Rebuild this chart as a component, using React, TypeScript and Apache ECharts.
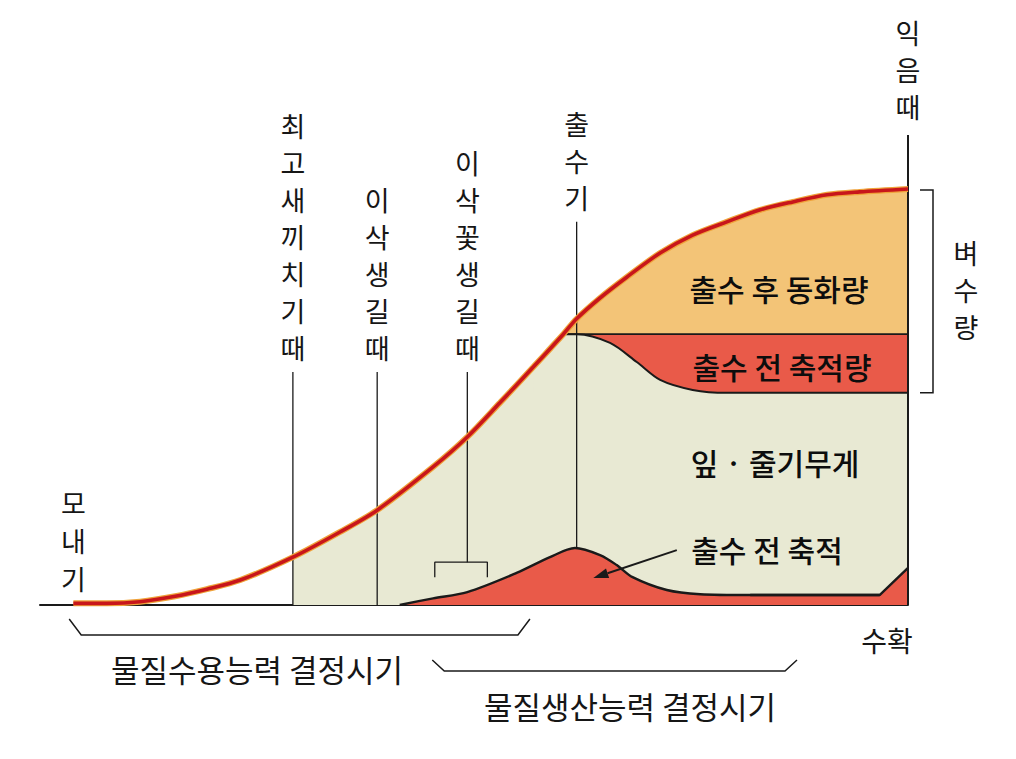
import React, { useEffect, useRef } from "react";
import * as echarts from "echarts";

const FONT = '"Noto Sans CJK KR", "Noto Sans", sans-serif';

// x: relative growth period (0 = transplanting, 100 = ripening/harvest)
// y: relative dry weight (100 = final total)
const totalWeight: number[][] = [
  [0, 0.4], [4, 0.4], [8, 0.8], [12.2, 2.1], [16, 3.8], [20, 6.0], [26.3, 11.5],
  [31.9, 17.5], [36.4, 22.8], [43.1, 33.2], [47.2, 40.4], [51.1, 48.6], [55.1, 57.2],
  [58.7, 65.1], [60.3, 68.8], [63.1, 73.8], [66.3, 78.8], [70.3, 84.6], [74.2, 88.9],
  [78.3, 92.1], [82.3, 95.0], [86.2, 96.9], [90.3, 98.6], [94.2, 99.3], [100, 100],
];
// leaf + stem weight after heading (lower edge of pre-heading reserve band)
const leafStemAfterHeading: number[][] = [
  [58.7, 65.1], [60.3, 65.1], [64.3, 63.0], [67.5, 58.4], [70.3, 54.1],
  [74.2, 51.7], [78.3, 51.0], [100, 51.0],
];
const reserveBandTop: number[][] = [[58.7, 65.1], [100, 65.1]];
// pre-heading accumulation (red hump)
const preHeadingStore: number[][] = [
  [39.1, 0], [43.1, 1.6], [47.2, 3.1], [53.1, 7.7], [57.1, 11.5], [60.1, 13.7],
  [63.1, 12.0], [65.1, 9.6], [67.0, 6.7], [71.1, 3.6], [75.1, 2.6], [81.1, 2.4], [96.6, 2.4],
];
const preHeadingStoreEnd: number[][] = [[81.1, 2.4], [96.6, 2.4], [100, 8.9]];

const stageNames = ["최고새끼치기때", "이삭생길때", "이삭꽃생길때", "출수기", "익음때"];
const stageX = [26.3, 36.4, 47.2, 60.3, 100];
const stageLineTop = [56.0, 56.0, 56.0, 92.1, 113];
const stageLineBottom = [0, 0, 10.3, 13.7, 0];
const panicleBracket: number[][] = [[43.3, 6.7], [43.3, 10.3], [49.6, 10.3], [49.6, 6.7]];
const arrowFrom = [72.3, 13.2];
const arrowTo = [62.3, 6.5];

const periodNames = ["물질수용능력 결정시기", "물질생산능력 결정시기"];
const periodStart = [-0.5, 43.0];
const periodEnd = [54.7, 86.7];

const GREEN = "#e8e9d3";
const ORANGE = "#f3c477";
const RED = "#e95a49";
const INK = "#1a1a1a";
const SMOOTH = 0.3;

export default function App() {
  const ref = useRef<HTMLDivElement>(null);
  useEffect(() => {
    document.body.style.margin = "0";
    const chart = echarts.init(ref.current!, undefined, { renderer: "svg" });
    const area = (data: number[][], color: string, z: number, smooth: any = SMOOTH) => ({
      type: "line",
      data,
      smooth,
      symbol: "none",
      silent: true,
      z,
      lineStyle: { width: 0, opacity: 0 },
      areaStyle: { color, opacity: 1 },
    });
    const outline = (data: number[][], z: number, width: number, smooth: any = SMOOTH, color = INK) => ({
      type: "line",
      data,
      smooth,
      symbol: "none",
      silent: true,
      z,
      lineStyle: { color, width },
    });
    const greenStart = stageX[0];
    const bandStartX = reserveBandTop[0][0];
    const series: any[] = [
      area(totalWeight.filter((p) => p[0] >= greenStart), GREEN, 1),
      area(totalWeight.filter((p) => p[0] >= bandStartX), ORANGE, 2),
      area(reserveBandTop, RED, 3, false),
      area(totalWeight.filter((p) => p[0] >= 55 && p[0] < bandStartX).concat(leafStemAfterHeading), GREEN, 4),
      area(preHeadingStore, RED, 5),
      area(preHeadingStoreEnd, RED, 5, false),
      outline(totalWeight.filter((p) => p[0] >= bandStartX), 6, 1.2),
      outline(reserveBandTop, 6, 1.8, false),
      outline(leafStemAfterHeading, 6, 2),
      outline(preHeadingStore, 6, 2.4),
      outline(preHeadingStoreEnd, 6, 2.4, false),
    ];
    stageX.forEach((x, i) => {
      series.push(outline([[x, stageLineBottom[i]], [x, stageLineTop[i]]], 7, i === 4 ? 2 : 1.3, false));
    });
    series.push(outline(panicleBracket, 7, 1.3, false));
    series.push(outline(totalWeight, 8, 6, SMOOTH, "#efa23a"));
    series.push(outline(totalWeight, 9, 3.6, SMOOTH, "#c8161b"));

    chart.setOption({
      animation: false,
      backgroundColor: "#ffffff",
      grid: { left: 40, right: 108, top: 105.8, bottom: 154 },
      xAxis: {
        type: "value",
        min: -4,
        max: 100,
        axisLine: { show: true, lineStyle: { color: INK, width: 2 } },
        axisTick: { show: false },
        axisLabel: { show: false },
        splitLine: { show: false },
      },
      yAxis: { type: "value", min: 0, max: 120, show: false, splitLine: { show: false } },
      series,
    });

    const px = (x: number, y: number) => chart.convertToPixel({ gridIndex: 0 }, [x, y]) as number[];
    const txt = (text: string, x: number, y: number, extra: any = {}) => ({
      type: "text",
      x,
      y,
      z: 20,
      style: {
        text,
        fontFamily: FONT,
        fontSize: 29,
        fill: "#161616",
        align: "center",
        verticalAlign: "middle",
        ...extra,
      },
    });
    const vert = { fontSize: 27, lineHeight: 37 };
    const graphic: any[] = [];
    stageNames.forEach((name, i) => {
      const [lx, ly] = px(stageX[i], stageLineTop[i]);
      graphic.push(txt(name.split("").join("\n"), lx, ly - (i === 4 ? 10 : 6), { ...vert, verticalAlign: "bottom" }));
    });
    const [bx, by] = px(0, 0);
    graphic.push(txt("모\n내\n기", bx, by - 8, { ...vert, lineHeight: 38, verticalAlign: "bottom" }));
    const [hx, hy] = px(100, 0);
    graphic.push(txt("수확", hx - 21, hy + 35, { fontSize: 28 }));
    // arrow
    const [ax1, ay1] = px(arrowFrom[0], arrowFrom[1]);
    const [ax2, ay2] = px(arrowTo[0], arrowTo[1]);
    const ang = Math.atan2(ay2 - ay1, ax2 - ax1);
    const hl = 15, hw = 5;
    const bxh = ax2 - hl * Math.cos(ang), byh = ay2 - hl * Math.sin(ang);
    graphic.push({
      type: "line",
      z: 20,
      shape: { x1: ax1, y1: ay1, x2: bxh, y2: byh },
      style: { stroke: INK, lineWidth: 2 },
    });
    graphic.push({
      type: "polygon",
      z: 20,
      shape: {
        points: [
          [ax2, ay2],
          [bxh + hw * Math.sin(ang), byh - hw * Math.cos(ang)],
          [bxh - hw * Math.sin(ang), byh + hw * Math.cos(ang)],
        ],
      },
      style: { fill: INK },
    });
    // yield bracket
    const [, yTop] = px(100, totalWeight[totalWeight.length - 1][1]);
    const [, yBot] = px(100, leafStemAfterHeading[leafStemAfterHeading.length - 1][1]);
    graphic.push({
      type: "polyline",
      z: 20,
      shape: { points: [[hx + 12, yTop + 1], [hx + 25, yTop + 1], [hx + 25, yBot], [hx + 12, yBot]] },
      style: { stroke: INK, lineWidth: 1.5, fill: "none" },
    });
    graphic.push(txt("벼\n수\n량", hx + 58, (yTop + yBot) / 2 - 1, vert));
    // period brackets
    const pY = [[by + 14, by + 30], [by + 55, by + 66]];
    const pLab = [by + 63, by + 100];
    periodNames.forEach((name, i) => {
      const [x1] = px(periodStart[i], 0);
      const [x2] = px(periodEnd[i], 0);
      graphic.push({
        type: "polyline",
        z: 20,
        shape: {
          points: [[x1, pY[i][0]], [x1 + 12, pY[i][1]], [x2 - 12, pY[i][1]], [x2, pY[i][0]]],
        },
        style: { stroke: INK, lineWidth: 1.5, fill: "none" },
      });
    });
    graphic.push(txt(periodNames[0], 257, pLab[0], { fontSize: 31 }));
    graphic.push(txt(periodNames[1], 630, pLab[1], { fontSize: 31 }));
    // region labels
    const reg = { fontSize: 30, fill: "#0d0d0d", fontWeight: 500 };
    graphic.push(txt("출수 후 동화량", 779, 288, reg));
    graphic.push(txt("출수 전 축적량", 782, 366, reg));
    graphic.push(txt("잎 · 줄기무게", 775, 462, reg));
    graphic.push(txt("출수 전 축적", 767, 549, reg));
    chart.setOption({ graphic });
    return () => chart.dispose();
  }, []);
  return <div ref={ref} style={{ width: 1016, height: 759, background: "#fff" }} />;
}
